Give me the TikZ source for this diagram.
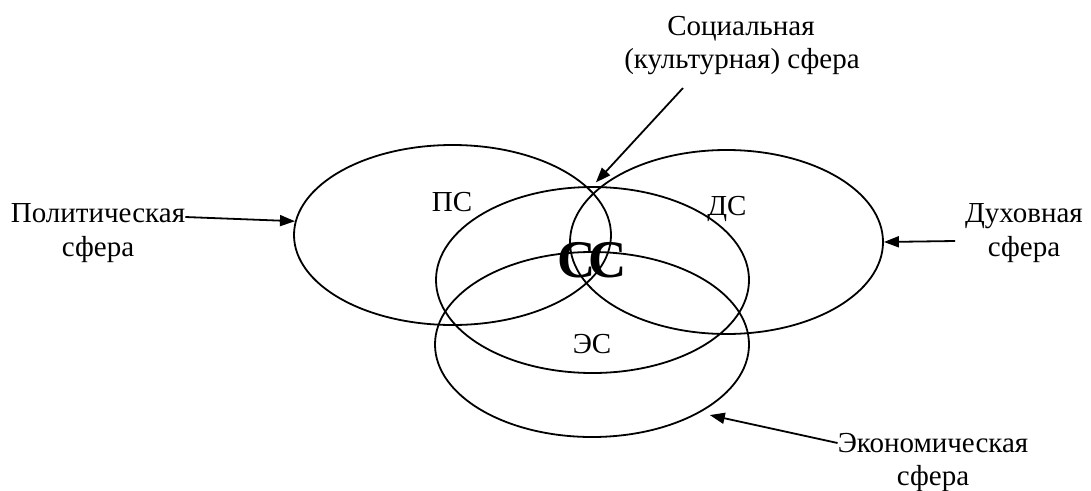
\documentclass[tikz,border=0pt]{standalone}
\usepackage{fontspec}
\setmainfont{Liberation Serif}
\usetikzlibrary{shapes.geometric,arrows.meta}
\begin{document}
\begin{tikzpicture}[x=1pt,y=-1pt,
  sphere/.style={draw, ellipse, line width=1.8pt, inner sep=0pt},
  lbl/.style={font=\fontsize{29}{34}\selectfont, inner sep=0pt, anchor=base},
  big/.style={font=\fontsize{53}{60}\selectfont\bfseries, inner sep=0pt, anchor=base},
  arr/.style={line width=1.8pt, -{Triangle[length=15pt,width=11pt]}}]
\useasboundingbox (0,0) rectangle (1091,490);
% spheres
\node[sphere, minimum width=317pt, minimum height=180pt] (ps) at (452.5,235) {};
\node[sphere, minimum width=313pt, minimum height=186pt] (cc) at (592.5,280) {};
\node[sphere, minimum width=313pt, minimum height=184pt] (ds) at (726.5,242) {};
\node[sphere, minimum width=314pt, minimum height=185pt] (es) at (592,344.5) {};
% inner labels
\node[lbl] (psl) at (452,211) {ПС};
\node[lbl] (dsl) at (727,215) {ДС};
\node[lbl] (esl) at (592,353) {ЭС};
\node[big] (ccl) at (592,277) {С\kern-7ptС};
% outer labels
\node[lbl] (pol1) at (98,222) {Политическая};
\node[lbl] (pol2) at (98,256) {сфера};
\node[lbl] (dux1) at (1024,222) {Духовная};
\node[lbl] (dux2) at (1024,256) {сфера};
\node[lbl] (eco1) at (933,452) {Экономическая};
\node[lbl] (eco2) at (933,485) {сфера};
\node[lbl] (soc1) at (741,35) {Социальная};
\node[lbl] (soc2) at (742,68) {(культурная) сфера};
% arrows
\draw[arr] ([yshift=5pt]pol1.base east) -- (ps.175);
\draw[arr] ([xshift=-10pt,yshift=-19pt]dux1.base west) -- (ds.east);
\draw[arr] ([yshift=9pt]eco1.base west) -- ([shift={(7pt,-4pt)}]es.-31);
\draw[arr, shorten >=5pt] ([xshift=-59pt,yshift=-20pt]soc2.base) -- (cc.north);
\end{tikzpicture}
\end{document}
